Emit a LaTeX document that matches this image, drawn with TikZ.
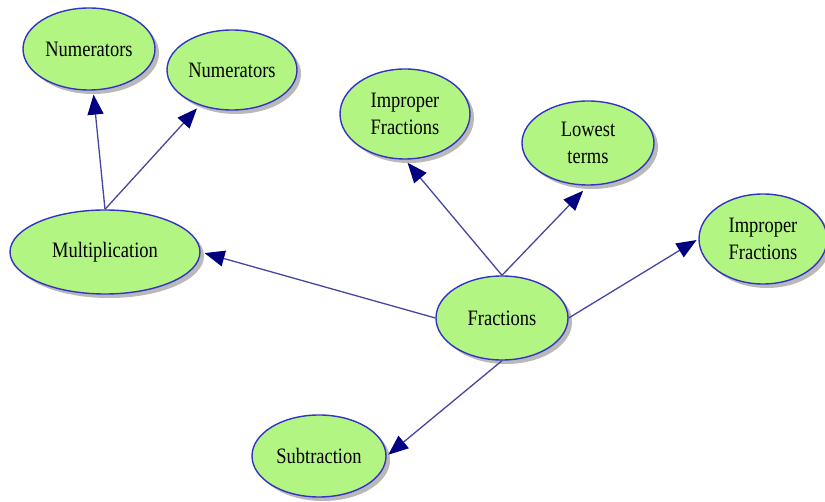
\documentclass[tikz,border=0pt]{standalone}
\usepackage{fontspec}
\setmainfont[FakeStretch=0.84]{Liberation Serif}
\usetikzlibrary{shapes.geometric,arrows.meta,shadows}
\definecolor{bubble}{HTML}{B2F582}
\definecolor{rim}{HTML}{3434C4}
\definecolor{link}{HTML}{4646A0}
\definecolor{tip}{HTML}{000080}
\tikzset{
  idea/.style={ellipse, draw=rim, line width=1.4pt, fill=bubble,
    inner sep=0pt, align=center, font=\fontsize{22}{27}\selectfont,
    drop shadow={shadow xshift=4pt, shadow yshift=-4pt, opacity=0.55, fill=gray}},
  link/.style={draw=link, line width=1.3pt,
    -{Triangle[length=20pt,width=16pt,fill=tip,color=tip]}, shorten >=4pt}
}
\begin{document}
\begin{tikzpicture}[x=1pt,y=-1pt]
  \useasboundingbox (0,0) rectangle (825,502);
  \fill[white] (0,0) rectangle (825,502);

  % concept bubbles
  \node[idea, minimum width=132pt, minimum height=82pt] (num1) at (89,49) {Numerators};
  \node[idea, minimum width=130pt, minimum height=80pt] (num2) at (232,70) {Numerators};
  \node[idea, minimum width=190pt, minimum height=84pt] (mult) at (105,252) {Multiplication};
  \node[idea, minimum width=130pt, minimum height=90pt] (imp1) at (405,114) {Improper\\Fractions};
  \node[idea, minimum width=132pt, minimum height=84pt] (low) at (588,143) {Lowest\\terms};
  \node[idea, minimum width=128pt, minimum height=90pt] (imp2) at (763,239) {Improper\\Fractions};
  \node[idea, minimum width=132pt, minimum height=84pt] (frac) at (502,318) {Fractions};
  \node[idea, minimum width=134pt, minimum height=82pt] (sub) at (319,456) {Subtraction};

  % connectors
  \draw[link] (mult.north) -- (num1);
  \draw[link] (mult.north) -- (num2);
  \draw[link] (frac.west) -- (mult.east);
  \draw[link] (frac.north) -- (imp1.south);
  \draw[link, shorten >=7pt] (frac.north) -- (low.south);
  \draw[link, shorten >=2pt] (frac.east) -- (imp2.west);
  \draw[link, shorten >=2pt] (frac.south) -- (sub.east);
\end{tikzpicture}
\end{document}
